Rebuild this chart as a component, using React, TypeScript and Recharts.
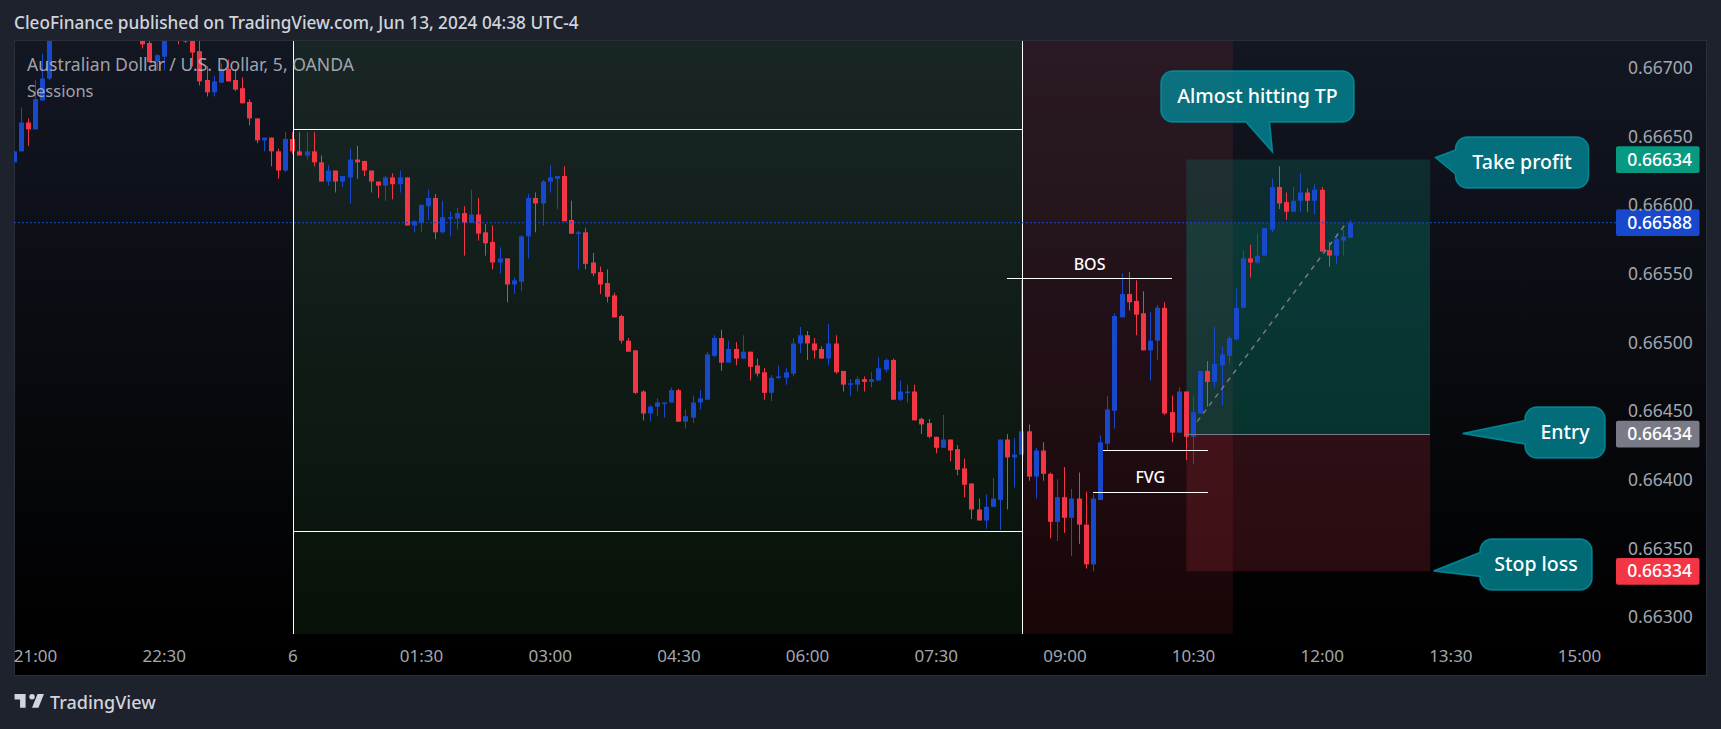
import React from 'react';
import { ComposedChart, Bar, XAxis, YAxis, ReferenceArea, ReferenceLine } from 'recharts';

// prices are in 1/100000 of a dollar, candles are 5 minutes apart, bar 0 = 21:00
const firstBar = -3;

const opens = [
  66632,66640,66661,66656,66677,66693,66730,66745,66750,66742,
  66748,66754,66750,66744,66748,66742,66738,66732,66724,66719,
  66705,66709,66722,66730,66722,66722,66713,66692,66683,66690,
  66700,66692,66686,66676,66664,66648,66650,66640,66626,66649,
  66640,66637,66640,66632,66618,66626,66618,66621,66634,66633,
  66626,66618,66615,66621,66616,66621,66586,66588,66600,66606,
  66581,66591,66591,66595,66588,66594,66581,66574,66559,66562,
  66543,66545,66578,66606,66602,66618,66620,66622,66590,66580,
  66581,66559,66552,66544,66535,66520,66502,66495,66465,66449,
  66454,66456,66457,66466,66443,66446,66457,66459,66491,66504,
  66486,66496,66489,66494,66484,66479,66464,66475,66475,66478,
  66500,66506,66500,66496,66489,66500,66480,66470,66470,66474,
  66472,66473,66481,66488,66459,66464,66465,66445,66442,66432,
  66424,66430,66423,66409,66398,66379,66371,66381,66386,66430,
  66417,66419,66436,66403,66422,66405,66370,66388,66373,66387,
  66368,66339,66386,66427,66451,66519,66536,66531,66522,66495,
  66502,66526,66450,66435,66465,66432,66449,66480,66472,66484,
  66491,66503,66526,66562,66559,66564,66583,66614,66603,66596,
  66604,66610,66604,66612,66568,66564,66575,66577,
];
const highs = [
  66640,66672,66664,66692,66711,66740,66750,66756,66760,66752,
  66758,66762,66758,66752,66756,66750,66746,66740,66730,66724,
  66711,66726,66730,66736,66728,66726,66724,66702,66695,66704,
  66707,66700,66694,66678,66664,66650,66650,66642,66654,66654,
  66654,66654,66654,66637,66630,66626,66622,66642,66644,66633,
  66626,66618,66622,66624,66626,66621,66590,66601,66612,66609,
  66604,66596,66599,66600,66612,66606,66587,66586,66570,66562,
  66548,66579,66609,66610,66619,66630,66622,66629,66604,66582,
  66584,66566,66556,66554,66537,66521,66504,66495,66466,66455,
  66460,66457,66468,66467,66452,66462,66466,66494,66506,66510,
  66502,66501,66506,66494,66489,66482,66477,66484,66482,66504,
  66512,66509,66504,66498,66514,66506,66480,66474,66476,66476,
  66479,66490,66489,66489,66473,66470,66470,66446,66445,66432,
  66448,66430,66426,66416,66398,66387,66390,66402,66430,66434,
  66431,66546,66441,66424,66428,66406,66401,66410,66394,66406,
  66392,66390,66433,66462,66522,66551,66552,66546,66538,66523,
  66528,66530,66462,66468,66465,66462,66480,66487,66512,66498,
  66506,66540,66568,66572,66580,66584,66620,66629,66610,66614,
  66624,66613,66616,66614,66574,66580,66583,66590,
];
const lows = [
  66632,66640,66644,66656,66677,66692,66726,66738,66744,66735,
  66742,66748,66740,66736,66740,66734,66728,66726,66715,66705,
  66699,66699,66722,66718,66719,66702,66688,66680,66680,66690,
  66691,66684,66675,66659,66646,66640,66629,66620,66625,66638,
  66637,66634,66629,66618,66615,66610,66614,66602,66620,66622,
  66610,66606,66604,66605,66610,66586,66581,66581,66590,66576,
  66580,66578,66583,66564,66588,66575,66564,66554,66551,66530,
  66536,66538,66562,66581,66586,66610,66598,66589,66580,66554,
  66554,66549,66536,66530,66519,66500,66494,66463,66444,66443,
  66447,66446,66457,66443,66438,66442,66452,66459,66490,66480,
  66486,66484,66489,66473,66476,66459,66458,66474,66470,66476,
  66493,66488,66489,66489,66484,66478,66465,66462,66465,66465,
  66468,66473,66479,66459,66458,66457,66444,66434,66431,66420,
  66424,66414,66404,66388,66372,66371,66365,66381,66364,66379,
  66395,66419,66400,66387,66400,66358,66356,66362,66345,66354,
  66336,66334,66386,66422,66438,66519,66524,66506,66495,66473,
  66488,66448,66428,66435,66415,66412,66449,66454,66468,66455,
  66485,66502,66526,66548,66558,66564,66581,66598,66590,66596,
  66596,66596,66594,66567,66556,66558,66564,66577,
];
const closes = [
  66640,66661,66656,66678,66693,66730,66745,66750,66742,66748,
  66754,66750,66744,66748,66742,66738,66732,66730,66718,66705,
  66710,66722,66728,66724,66720,66712,66691,66683,66691,66700,
  66691,66685,66675,66664,66648,66650,66640,66626,66649,66640,
  66637,66640,66632,66618,66626,66618,66622,66634,66632,66626,
  66618,66615,66621,66616,66621,66586,66589,66601,66606,66581,
  66592,66592,66595,66588,66594,66580,66573,66559,66562,66543,
  66546,66578,66606,66602,66618,66621,66622,66589,66580,66581,
  66558,66551,66543,66534,66519,66502,66494,66464,66449,66454,
  66457,66457,66466,66443,66447,66457,66460,66492,66504,66486,
  66496,66489,66494,66483,66478,66464,66475,66476,66479,66500,
  66506,66500,66495,66489,66500,66479,66470,66471,66474,66472,
  66474,66482,66488,66459,66465,66465,66444,66441,66432,66424,
  66430,66422,66408,66397,66379,66371,66381,66387,66430,66417,
  66419,66436,66403,66422,66405,66370,66388,66373,66387,66368,
  66339,66387,66428,66452,66520,66536,66530,66521,66495,66502,
  66526,66449,66435,66465,66432,66450,66480,66472,66485,66492,
  66504,66526,66562,66559,66564,66584,66614,66602,66596,66604,
  66610,66604,66612,66567,66564,66576,66578,66588,
];

const timeTicks = [0, 18, 36, 54, 72, 90, 108, 126, 144, 162, 180, 198, 216];
const timeLabels = ['21:00', '22:30', '6', '01:30', '03:00', '04:30', '06:00', '07:30', '09:00', '10:30', '12:00', '13:30', '15:00'];
const priceTicks = [66300, 66350, 66400, 66450, 66500, 66550, 66600, 66650, 66700];

const takeProfit = 66634;
const lastPrice = 66588;
const entry = 66434;
const stopLoss = 66334;
const sessionHigh = 66656;
const sessionLow = 66363;

const candles = opens.map((open, i) => ({
  bar: firstBar + i,
  open,
  close: closes[i],
  high: highs[i],
  low: lows[i],
  range: [lows[i], highs[i]],
}));

const UP = '#1848cc';
const DOWN = '#f23645';
const GREY = '#787b86';
const FONT = '"Noto Sans", sans-serif';

const fmtPrice = (v: number) => (v / 100000).toFixed(5);

function Candle(props: any) {
  const { x, y, width, height, payload } = props;
  const { open, close, high, low } = payload;
  const k = height / (high - low);
  const bodyTop = y + (high - Math.max(open, close)) * k;
  const bodyH = Math.max(Math.abs(open - close) * k, 1.5);
  const color = close >= open ? UP : DOWN;
  const cx = Math.round(x + width / 2 - 0.5);
  return (
    <g>
      <rect x={cx} y={y} width={1} height={height} fill={color} />
      <rect x={cx - 2} y={bodyTop} width={5} height={bodyH} fill={color} />
    </g>
  );
}

function priceTag(value: number, color: string) {
  return (props: any) => {
    const right = props.viewBox.x + props.viewBox.width;
    const cy = props.viewBox.y;
    return (
      <g>
        <rect x={right} y={cy - 13.4} width={83.5} height={26.8} rx={2} fill={color} />
        <text x={right + 43.6} y={cy + 6} textAnchor="middle" fill="#fff" fontSize={17.5} fontWeight={500} fontFamily={FONT}>
          {fmtPrice(value)}
        </text>
      </g>
    );
  };
}

// rounded box with a pointer on its bottom or left edge
function calloutPath(x: number, y: number, w: number, h: number, side: string, a: number, b: number, tx: number, ty: number) {
  const r = 12;
  let d = `M${x + r} ${y}H${x + w - r}A${r} ${r} 0 0 1 ${x + w} ${y + r}V${y + h - r}A${r} ${r} 0 0 1 ${x + w - r} ${y + h}`;
  if (side === 'bottom') d += `H${b}L${tx} ${ty}L${a} ${y + h}`;
  d += `H${x + r}A${r} ${r} 0 0 1 ${x} ${y + h - r}`;
  if (side === 'left') d += `V${b}L${tx} ${ty}L${x} ${a}`;
  d += `V${y + r}A${r} ${r} 0 0 1 ${x + r} ${y}Z`;
  return d;
}

const callouts = [
  { text: 'Almost hitting TP', x: 1161, y: 71, w: 193, h: 51, side: 'bottom', a: 1246, b: 1269.5, tx: 1272.5, ty: 152 },
  { text: 'Take profit', x: 1455.5, y: 137, w: 133, h: 51, side: 'left', a: 150, b: 174, tx: 1435.5, ty: 157.5 },
  { text: 'Entry', x: 1525, y: 407, w: 80, h: 51, side: 'left', a: 420.5, b: 444, tx: 1462.5, ty: 433.5 },
  { text: 'Stop loss', x: 1480, y: 539, w: 112, h: 51, side: 'left', a: 552.5, b: 576.5, tx: 1433.5, ty: 571 },
];

const noteLabel = (value: string) => ({ value, position: 'top' as const, fill: '#fff', fontSize: 16, fontWeight: 500, fontFamily: FONT, offset: 9 });

export default function App() {
  return (
    <div style={{ position: 'absolute', left: 0, top: 0, width: 1721, height: 729, overflow: 'hidden', background: '#1e222d', fontFamily: FONT }}>
      <div
        style={{
          position: 'absolute', left: 14, top: 40, width: 1693, height: 636, boxSizing: 'border-box',
          border: '1px solid #2a2e39', background: 'linear-gradient(#131722 0%, #000 95%)',
        }}
      />
      <ComposedChart
        width={1721}
        height={729}
        data={candles}
        margin={{ top: 41, left: 14, right: 14, bottom: 53 }}
        style={{ position: 'absolute', left: 0, top: 0 }}
      >
        <XAxis
          type="number"
          dataKey="bar"
          domain={[-3.02, 221.1]}
          allowDataOverflow
          ticks={timeTicks}
          interval={0}
          tickFormatter={(v: number) => timeLabels[timeTicks.indexOf(v)]}
          axisLine={false}
          tickLine={false}
          tickSize={0}
          tickMargin={16}
          height={42}
          tick={{ fill: '#a3a6af', fontSize: 17, fontFamily: FONT }}
        />
        <YAxis
          orientation="right"
          domain={[66288.3, 66720.4]}
          allowDataOverflow
          ticks={priceTicks}
          interval={0}
          tickFormatter={fmtPrice}
          axisLine={false}
          tickLine={false}
          tickSize={0}
          tickMargin={12}
          width={91}
          tick={{ fill: '#a3a6af', fontSize: 17.5, fontFamily: FONT, dy: -1 }}
        />

        <ReferenceArea x1={36} x2={138} fill="#4caf50" fillOpacity={0.1} stroke="none" />
        <ReferenceArea x1={138} x2={167.5} fill="#f23645" fillOpacity={0.1} stroke="none" />
        <ReferenceArea x1={161} x2={195.1} y1={entry} y2={takeProfit} fill="#089981" fillOpacity={0.2} stroke="none" />
        <ReferenceArea x1={161} x2={195.1} y1={entry} y2={lastPrice} fill="#089981" fillOpacity={0.12} stroke="none" />
        <ReferenceArea x1={161} x2={195.1} y1={stopLoss} y2={entry} fill="#f23645" fillOpacity={0.17} stroke="none" />

        <ReferenceLine x={36.1} stroke="#fff" strokeWidth={1} shapeRendering="crispEdges" />
        <ReferenceLine x={138} stroke="#fff" strokeWidth={1} shapeRendering="crispEdges" />
        <ReferenceLine segment={[{ x: 36, y: sessionHigh }, { x: 138, y: sessionHigh }]} stroke="#fff" strokeWidth={1} shapeRendering="crispEdges" />
        <ReferenceLine segment={[{ x: 36, y: sessionLow }, { x: 138, y: sessionLow }]} stroke="#fff" strokeWidth={1} shapeRendering="crispEdges" />
        <ReferenceLine
          segment={[{ x: 135.9, y: 66547 }, { x: 159, y: 66547 }]}
          stroke="#fff"
          strokeWidth={1}
          shapeRendering="crispEdges"
          label={noteLabel('BOS')}
        />
        <ReferenceLine segment={[{ x: 149.35, y: 66422 }, { x: 164, y: 66422 }]} stroke="#fff" strokeWidth={1} shapeRendering="crispEdges" />
        <ReferenceLine
          segment={[{ x: 147.9, y: 66391.5 }, { x: 164, y: 66391.5 }]}
          stroke="#fff"
          strokeWidth={1}
          shapeRendering="crispEdges"
          label={noteLabel('FVG')}
        />
        <ReferenceLine segment={[{ x: 161, y: entry }, { x: 195.1, y: entry }]} stroke={GREY} strokeWidth={1} shapeRendering="crispEdges" />
        <ReferenceLine segment={[{ x: 162.5, y: 66443 }, { x: 183.4, y: lastPrice }]} stroke={GREY} strokeWidth={1.4} strokeDasharray="5 5" />
        <ReferenceLine y={lastPrice} stroke={UP} strokeWidth={1} strokeDasharray="2 2" />

        <Bar dataKey="range" barSize={5} shape={Candle} isAnimationActive={false} />

        <ReferenceLine y={takeProfit} stroke="none" label={priceTag(takeProfit, '#089981')} />
        <ReferenceLine y={lastPrice} stroke="none" label={priceTag(lastPrice, UP)} />
        <ReferenceLine y={entry} stroke="none" label={priceTag(entry, GREY)} />
        <ReferenceLine y={stopLoss} stroke="none" label={priceTag(stopLoss, DOWN)} />
      </ComposedChart>

      <svg width={1721} height={729} style={{ position: 'absolute', left: 0, top: 0, pointerEvents: 'none' }}>
        {callouts.map((c) => (
          <g key={c.text}>
            <path
              d={calloutPath(c.x, c.y, c.w, c.h, c.side, c.a, c.b, c.tx, c.ty)}
              fill="#0097a7"
              fillOpacity={0.7}
              stroke="#0097a7"
              strokeOpacity={0.8}
              strokeWidth={1.5}
            />
            <text x={c.x + c.w / 2} y={c.y + c.h / 2 + 6} textAnchor="middle" fill="#fff" fontSize={19.5} fontWeight={500} fontFamily={FONT}>
              {c.text}
            </text>
          </g>
        ))}
        <path transform="translate(12.7 688.5) scale(0.92)" d="M14 6H2v6h6v9h6V6zm14 15h-7l6-15h7l-6 15zm-7-9a3 3 0 1 0 0-6 3 3 0 0 0 0 6z" fill="#d1d4dc" />
      </svg>

      <div style={{ position: 'absolute', left: 14, top: 11, color: '#d1d4dc', fontSize: 17.2, fontWeight: 500, whiteSpace: 'nowrap' }}>
        CleoFinance published on TradingView.com, Jun 13, 2024 04:38 UTC-4
      </div>
      <div style={{ position: 'absolute', left: 27, top: 52, color: 'rgba(178,181,190,0.9)', fontSize: 17.6, whiteSpace: 'nowrap' }}>
        Australian Dollar / U.S. Dollar, 5, OANDA
      </div>
      <div style={{ position: 'absolute', left: 27, top: 79, color: 'rgba(178,181,190,0.9)', fontSize: 16.5, whiteSpace: 'nowrap' }}>
        Sessions
      </div>
      <div style={{ position: 'absolute', left: 50, top: 690, color: '#d1d4dc', fontSize: 18, fontWeight: 500, whiteSpace: 'nowrap' }}>
        TradingView
      </div>
    </div>
  );
}
